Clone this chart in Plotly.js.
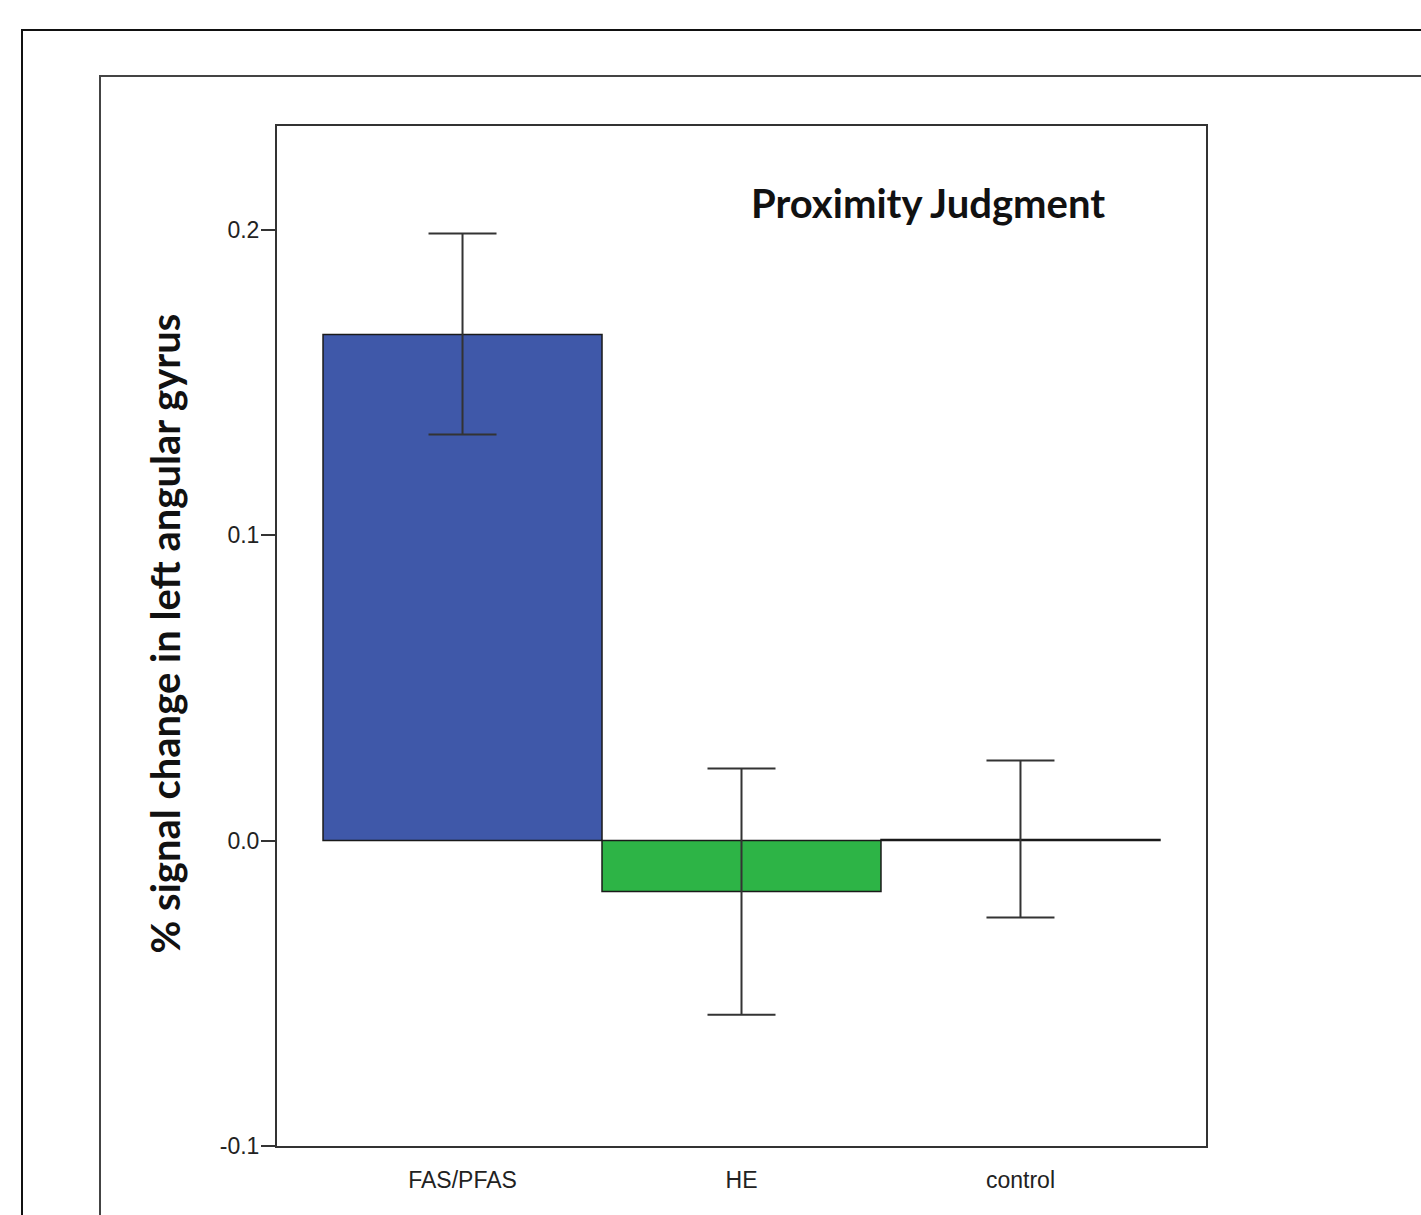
<!DOCTYPE html>
<html>
<head>
<meta charset="utf-8">
<script src="https://cdn.plot.ly/plotly-3.0.1.min.js"></script>
<style>
  html, body { margin: 0; padding: 0; background: #fff; overflow: hidden; }
  #outer { position: absolute; left: 21px; top: 29px; width: 1500px; height: 1300px; border: 2px solid #111; box-sizing: border-box; }
  #inner { position: absolute; left: 99px; top: 75px; width: 1500px; height: 1300px; border: 2px solid #444; box-sizing: border-box; }
  #chart { position: absolute; left: 0; top: 0; width: 1421px; height: 1215px; }
</style>
</head>
<body>
<div id="outer"></div>
<div id="inner"></div>
<div id="chart"></div>
<script>
const categories = ["FAS/PFAS", "HE", "control"];
const values = [0.1657, -0.0167, 0.0004];
const errUpper = [0.0331, 0.0403, 0.0258];
const errLower = [0.0327, 0.0403, 0.0256];
const barColors = ["#3f58a9", "#2db446", "#9a9a9a"];
const yTickVals = [-0.1, 0.0, 0.1, 0.2];
const yTickText = ["-0.1", "0.0", "0.1", "0.2"];
const chartTitle = "Proximity Judgment";
const yTitle = "% signal change in left angular gyrus";

const trace = {
  type: "bar",
  x: [0, 1, 2],
  y: values,
  width: 1,
  marker: { color: barColors, line: { color: "#1a1a1a", width: 1.5 } },
  error_y: {
    type: "data", symmetric: false,
    array: errUpper, arrayminus: errLower,
    color: "#333", thickness: 2, width: 34
  },
  hoverinfo: "skip"
};

const layout = {
  width: 1421, height: 1215,
  margin: { l: 277, r: 215, t: 126, b: 69 },
  paper_bgcolor: "rgba(0,0,0,0)",
  plot_bgcolor: "#fff",
  showlegend: false,
  bargap: 0,
  xaxis: {
    range: [-0.665, 2.665],
    tickmode: "array", tickvals: [0, 1, 2], ticktext: categories,
    ticks: "", ticklabelstandoff: 12,
    tickfont: { family: "Liberation Sans, Arial, sans-serif", size: 23, color: "#222" },
    showline: true, mirror: true, linecolor: "#333", linewidth: 2,
    showgrid: false, zeroline: false, fixedrange: true
  },
  yaxis: {
    range: [-0.1, 0.234],
    tickmode: "array", tickvals: yTickVals, ticktext: yTickText,
    ticks: "outside", ticklen: 14, tickwidth: 2, tickcolor: "#333",
    ticklabelstandoff: -3,
    tickfont: { family: "Liberation Sans, Arial, sans-serif", size: 23, color: "#222" },
    showline: true, mirror: true, linecolor: "#333", linewidth: 2,
    showgrid: false, zeroline: false, fixedrange: true
  },
  annotations: [
    {
      text: "<b>" + chartTitle + "</b>",
      xref: "paper", yref: "paper", x: 0.7008, y: 0.9245,
      xanchor: "center", yanchor: "middle", showarrow: false,
      font: { family: "Lato, Open Sans, sans-serif", size: 40, color: "#111" }
    },
    {
      text: "<b>" + yTitle + "</b>",
      xref: "paper", yref: "paper", x: -0.1206, y: 0.5025,
      xanchor: "center", yanchor: "middle", showarrow: false, textangle: -90,
      font: { family: "Lato, Open Sans, sans-serif", size: 40, color: "#111" }
    }
  ]
};

Plotly.newPlot("chart", [trace], layout, { displayModeBar: false, staticPlot: true });
</script>
</body>
</html>
